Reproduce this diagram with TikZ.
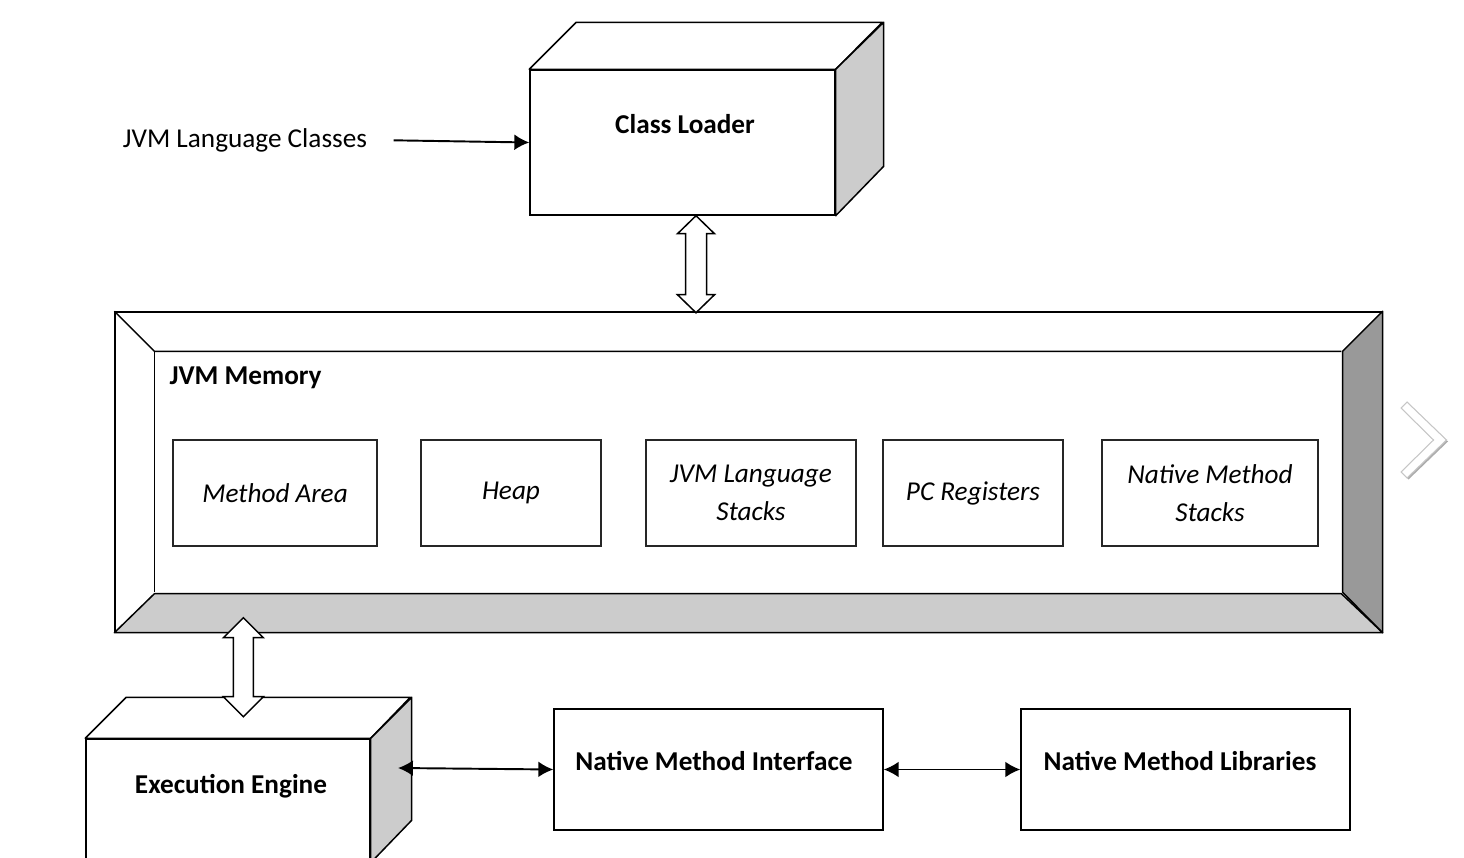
\documentclass[tikz,border=0pt]{standalone}
\usepackage{fontspec}
\setmainfont{Carlito}
\usepackage{tikz}
\usetikzlibrary{
  arrows.meta,
  calc
}
\definecolor{bevellight}{RGB}{204,204,204}
\definecolor{beveldark}{RGB}{153,153,153}

\begin{document}
\begin{tikzpicture}[
    x=0.02cm, y=-0.02cm,
    line width=0.85pt,
    face/.style={rectangle, draw, fill=white, inner sep=0pt},
    membox/.style={
      rectangle, draw=black!85, line width=0.7pt, fill=white,
      minimum height=2.12cm, align=center,
      font=\fontsize{15.5}{22}\selectfont\itshape
    },
    side/.style={draw, fill=bevellight, line join=round},
    lbl/.style={font=\fontsize{15.5}{19}\selectfont\bfseries},
    arr/.style={-{Latex[length=8.5pt,width=9pt]}, line width=1.1pt},
    dbl/.style={{Latex[length=8.5pt,width=9pt]}-{Latex[length=8.5pt,width=9pt]}, line width=1.1pt},
    hollow/.style={draw, fill=white, line join=miter},
  ]
  \clip (0,0) rectangle (1464,858);

  %% --- Class loader ---
  \node[face, minimum width=6.1cm, minimum height=2.9cm] (cl) at (682.5,142.5) {};
  \draw[side, fill=white] (cl.north west) -- ++(47,-47) -- ++(306,0) -- (cl.north east) -- cycle;
  \draw[side] (cl.north east) -- ++(48,-47) -- ++(0,144) -- (cl.south east) -- cycle;
  \node[lbl] (cltxt) at (685,124) {Class Loader};

  \node[font=\fontsize{15.5}{19}\selectfont] (jlc) at (245,140) {JVM Language Classes};
  \draw[arr, shorten <=0.4cm] (jlc.east) -- (cl.west);

  %% --- JVM memory ---
  \node[face, minimum width=25.34cm, minimum height=6.4cm] (mem) at (748.5,472) {};
  \draw[side] (mem.south west) -- ++(40,-39) -- ++(1187,0) -- (mem.south east) -- cycle;
  \draw[side, fill=beveldark] (mem.north east) -- ++(-40,40) -- ++(0,241) -- (mem.south east) -- cycle;
  \draw (mem.north west) -- ++(40,40) coordinate (memin) -- ++(1187,0);
  \draw (memin) -- ++(0,241);
  \node[lbl, anchor=west] (memtxt) at (163,378) {JVM Memory};

  \node[membox, minimum width=4.08cm] (ma)   at (275,493)  {Method Area};
  \node[membox, minimum width=3.6cm]  (heap) at (511,493)  {Heap};
  \node[membox, minimum width=4.2cm]  (jls)  at (751,493)  {JVM Language\\Stacks};
  \node[membox, minimum width=3.6cm]  (pcr)  at (973,493)  {PC Registers};
  \node[membox, minimum width=4.32cm] (nms)  at (1210,493) {Native Method\\Stacks};

  % chevron at the right edge
  \fill[gray!65, shift={(1.5,1.5)}] (1407,402) -- (1446.5,440) -- (1407,478) -- (1401,472) -- (1433.5,440) -- (1401,408) -- cycle;
  \draw[gray!45, fill=white, line width=0.6pt] (1407,402) -- (1446.5,440) -- (1407,478) -- (1401,472) -- (1433.5,440) -- (1401,408) -- cycle;

  %% --- Execution engine ---
  \node[face, minimum width=5.68cm, minimum height=2.46cm] (ee) at (228,800.5) {};
  \draw[side, fill=white] (ee.north west) -- ++(41,-41) -- ++(284,0) -- (ee.north east) -- cycle;
  \draw[side] (ee.north east) -- ++(41,-41) -- ++(0,123) -- (ee.south east) -- cycle;
  \node[lbl] (eetxt) at (231,786) {Execution Engine};

  % hollow double arrows
  \draw[hollow] ($(cl.south)+(13.5,0)$) -- ++(18.5,18) -- ++(-8,0) -- ++(0,61) -- ++(8,0)
    -- ++(-18.5,18) -- ++(-18.5,-18) -- ++(8,0) -- ++(0,-61) -- ++(-8,0) -- cycle;
  \draw[hollow] ($(mem.south west)+(129,-15)$) -- ++(20,20) -- ++(-10,0) -- ++(0,59) -- ++(10,0)
    -- ++(-20,20) -- ++(-20,-20) -- ++(10,0) -- ++(0,-59) -- ++(-10,0) -- cycle;

  %% --- Native method interface / libraries ---
  \node[face, minimum width=6.58cm, minimum height=2.42cm] (nmi) at (718.5,769.5) {};
  \node[lbl] (nmitxt) at (714,761) {Native Method Interface};
  \node[face, minimum width=6.58cm, minimum height=2.42cm] (nml) at (1185.5,769.5) {};
  \node[lbl] (nmltxt) at (1180,761) {Native Method Libraries};

  \coordinate (eeside) at (398,768);
  \draw[dbl] (eeside) -- (nmi.west);
  \draw[dbl] (nmi.east) -- (nml.west);
\end{tikzpicture}
\end{document}
